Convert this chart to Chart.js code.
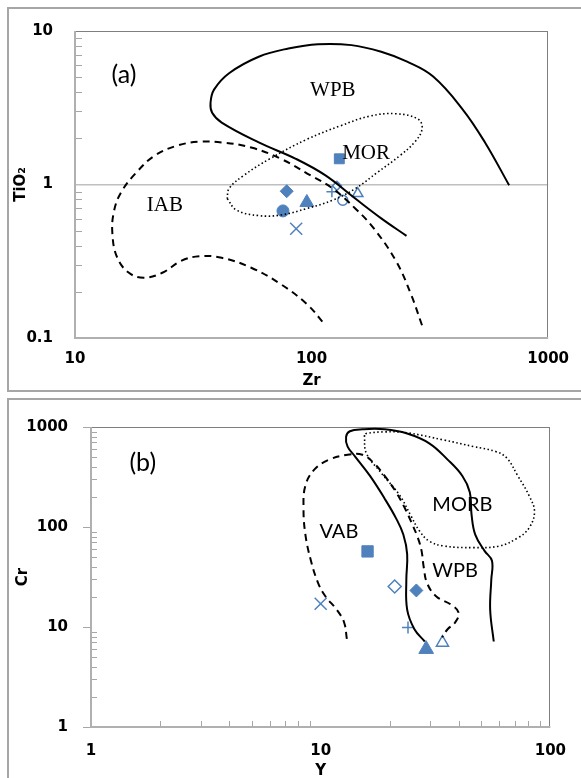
<!DOCTYPE html>
<html><head><meta charset="utf-8">
<script src="https://cdn.jsdelivr.net/npm/chart.js@4/dist/chart.umd.min.js"></script>
<style>
html,body{margin:0;padding:0;background:#fff;width:581px;height:778px;overflow:hidden;position:relative}
canvas{position:absolute;left:0}
#ca{top:0}
#cb{top:395px}
.frame{position:absolute;border:2px solid #a6a6a6;box-sizing:border-box;pointer-events:none}
</style></head><body>
<div class="frame" style="left:7px;top:7px;width:600px;height:385px"></div>
<div class="frame" style="left:7px;top:398px;width:600px;height:420px"></div>
<canvas id="ca" width="581" height="395"></canvas>
<canvas id="cb" width="581" height="390"></canvas>
<script>
// ---------------- DATA : panel (a) TiO2 vs Zr ----------------
const ticksZr = [10, 100, 1000];
const ticksTi = [0.1, 1, 10];
// samples (order: ■ ◆ ● ▲ × + ◇ ○ △)
const sampleZr = [131, 78.5, 75.7, 95.5, 86.1, 121.9, 128, 135.5, 156.7];
const sampleTi = [1.47, 0.904, 0.673, 0.764, 0.515, 0.896, 0.98, 0.79, 0.873];
// WPB field (solid)
const wpbAZr = [252, 197, 153, 114.5, 85.8, 59.8, 41.7, 38.0, 37.4, 38.7, 44.8, 59.8, 79.8, 106.5, 147.5, 197, 253.5, 326.6, 435.7, 541, 684];
const wpbATi = [0.463, 0.602, 0.81, 1.146, 1.47, 1.88, 2.53, 2.93, 3.40, 4.15, 5.31, 6.80, 7.69, 8.20, 8.09, 7.32, 6.31, 5.05, 3.08, 1.88, 0.99];
// MOR field (dotted, closed)
const morZr = [44.0, 48.1, 59.8, 74.2, 95.6, 123, 153, 190, 236, 272, 293, 282.5, 227.5, 176.6, 132.3, 95.6, 66.6, 51.7, 44.8, 44.0];
const morTi = [0.81, 0.682, 0.627, 0.633, 0.698, 0.791, 0.94, 1.20, 1.54, 1.88, 2.29, 2.66, 2.89, 2.79, 2.41, 1.97, 1.47, 1.146, 0.94, 0.81];
// IAB field (dashed)
const iabZr = [293, 263, 227.5, 183, 153, 123, 99.1, 74.2, 55.6, 41.7, 33.5, 27.0, 21.7, 18.2, 15.7, 14.6, 14.4, 15.1, 16.9, 19.5, 23.4, 28.0, 33.5, 41.7, 55.6, 74.2, 95.6, 114.5];
const iabTi = [0.121, 0.193, 0.317, 0.519, 0.698, 0.94, 1.146, 1.47, 1.74, 1.88, 1.90, 1.79, 1.54, 1.20, 0.895, 0.665, 0.47, 0.333, 0.266, 0.247, 0.266, 0.317, 0.341, 0.333, 0.287, 0.224, 0.166, 0.121];

// ---------------- DATA : panel (b) Cr vs Y ----------------
const ticksY = [1, 10, 100];
const ticksCr = [1, 10, 100, 1000];
// samples (order: ■ ◇ ◆ × + ▲ △)
const sampleY = [16.0, 21.0, 26.1, 10.0, 24.0, 28.8, 33.9];
const sampleCr = [57, 25.4, 23.2, 17.1, 9.9, 6.0, 6.97];
// WPB field (solid)
const wpbBY = [28.4, 25.6, 23.8, 23.6, 23.8, 22.9, 21.3, 19.0, 16.4, 14.1, 13.1, 12.9, 13.4, 15.2, 19.0, 23.8, 29.7, 35.7, 41.4, 44.6, 45.4, 47.1, 51.7, 55.7, 55.3, 54.7, 56.7];
const wpbBCr = [7.16, 9.5, 14.9, 29.4, 53.5, 84.0, 122, 192, 324, 509, 637, 798, 907, 949, 949, 861, 687, 472, 324, 223, 132, 84.0, 57.7, 46.0, 29.4, 14.9, 7.16];
// VAB field (dashed)
const vabY = [13.0, 12.65, 11.75, 10.5, 9.77, 9.07, 8.58, 8.42, 8.58, 9.4, 10.9, 13.1, 15.2, 17.0, 19.0, 21.3, 23.3, 25.1, 26.5, 27.5, 28.1, 29.1, 31.9, 37.0, 39.9, 38.5, 35.7, 33.8];
const vabCr = [7.6, 11.1, 14.9, 20.2, 27.2, 46.0, 84.0, 153, 259, 377, 472, 528, 528, 438, 324, 223, 153, 105, 77.9, 57.7, 39.6, 27.2, 20.2, 16.7, 13.9, 11.1, 9.5, 7.9];
// MORB field (dotted, closed)
const morbY = [15.5, 15.8, 18.3, 22.1, 24.6, 27.0, 29.7, 34.4, 46.3, 60.0, 72.2, 80.7, 85.3, 80.7, 72.2, 64.6, 57.8, 46.3, 34.4, 23.8, 19.0, 15.8, 15.5];
const morbCr = [829, 549, 350, 207, 132, 90.5, 72.3, 64.6, 62.2, 64.6, 77.9, 97.6, 142, 207, 324, 490, 569, 637, 741, 874, 894, 861, 829];

// field labels (text, anchor in data units)
const labelTextA = ['(a)', 'WPB', 'MOR', 'IAB'];
const labelXA = [16.1, 123, 170, 24.0];
const labelYA = [5.14, 4.09, 1.60, 0.728];
const labelTextB = ['(b)', 'VAB', 'MORB', 'WPB'];
const labelXB = [1.68, 12.0, 41.4, 38.5];
const labelYB = [438, 90.5, 167, 36.7];

// ---------------- STYLE ----------------
const BLUE = '#4F81BD';
const stylesA = [
  {s:'rect', r:7, fill:true}, {s:'rectRot', r:6.5, fill:true}, {s:'circle', r:6, fill:true},
  {s:'triangle', r:8, fill:true}, {s:'crossRot', r:8.5, fill:false}, {s:'cross', r:5.5, fill:false},
  {s:'rectRot', r:4.5, fill:false}, {s:'circle', r:5, fill:false}, {s:'triangle', r:6, fill:false}
];
const stylesB = [
  {s:'rect', r:8, fill:true}, {s:'rectRot', r:6.5, fill:false}, {s:'rectRot', r:6.5, fill:true},
  {s:'crossRot', r:8.5, fill:false}, {s:'cross', r:6, fill:false},
  {s:'triangle', r:8.5, fill:true}, {s:'triangle', r:7, fill:false}
];
const minor = (decades) => decades.flatMap(d => [2,3,4,5,6,7,8,9].map(k => +(k*d).toPrecision(3)));

function pts(xs, ys) { return xs.map((x, i) => ({x, y: ys[i]})); }
function curve(xs, ys, dash, width) {
  return {data: pts(xs, ys), showLine: true, borderColor: '#000', borderWidth: width || 2,
          borderDash: dash, pointRadius: 0, pointHoverRadius: 0, tension: 0.4, fill: false, borderCapStyle: 'butt'};
}
function markers(xs, ys, styles) {
  return xs.map((x, i) => {
    const st = styles[i];
    return {data: [{x, y: ys[i]}], showLine: false, pointStyle: st.s, pointRadius: st.r,
      pointHoverRadius: st.r, backgroundColor: st.fill ? BLUE : '#fff', borderColor: BLUE,
      borderWidth: st.fill ? 1 : 1.5};
  });
}

const decor = {
  id: 'decor',
  beforeDatasetsDraw(chart, a, o) {
    const {ctx, chartArea: ca, scales: {x, y}} = chart;
    ctx.save();
    ctx.lineWidth = 1;
    ctx.strokeStyle = '#a6a6a6';
    (o.yMinor || []).forEach(v => {
      const py = Math.round(y.getPixelForValue(v)) + 0.5;
      ctx.beginPath(); ctx.moveTo(ca.left, py); ctx.lineTo(ca.left + o.minorLen, py); ctx.stroke();
    });
    (o.xMinor || []).forEach(v => {
      const px = Math.round(x.getPixelForValue(v)) + 0.5;
      ctx.beginPath(); ctx.moveTo(px, ca.bottom); ctx.lineTo(px, ca.bottom - o.minorLen); ctx.stroke();
    });
    (o.yMajorOut || []).forEach(v => {
      const py = Math.round(y.getPixelForValue(v)) + 0.5;
      ctx.beginPath(); ctx.moveTo(ca.left - 8, py); ctx.lineTo(ca.left, py); ctx.stroke();
    });
    ctx.strokeStyle = '#7f7f7f';
    ctx.strokeRect(Math.round(ca.left) + 0.5, Math.round(ca.top) + 0.5, Math.round(ca.width) - 1, Math.round(ca.height) - 1);
    ctx.strokeStyle = '#b0b0b0'; ctx.lineWidth = 2;
    ctx.beginPath(); ctx.moveTo(ca.left, ca.top); ctx.lineTo(ca.left, ca.bottom); ctx.lineTo(ca.right, ca.bottom); ctx.stroke();
    ctx.restore();
  },
  afterDatasetsDraw(chart, a, o) {
    const {ctx, scales: {x, y}} = chart;
    ctx.save();
    ctx.fillStyle = '#000'; ctx.textAlign = 'center'; ctx.textBaseline = 'middle';
    o.texts.forEach((t, i) => {
      ctx.font = o.fonts[i];
      ctx.fillText(t, x.getPixelForValue(o.xs[i]), y.getPixelForValue(o.ys[i]));
    });
    ctx.restore();
  }
};

const tickFont = {family: 'DejaVu Sans', weight: 'bold', size: 15};
function logAxis(min, max, vals, opts) {
  return Object.assign({
    type: 'logarithmic', min, max,
    afterBuildTicks: s => { s.ticks = vals.map(v => ({value: v})); },
    ticks: {font: tickFont, color: '#000', callback: v => String(v), autoSkip: false, maxRotation: 0},
    grid: {drawOnChartArea: false, drawTicks: false},
    border: {display: false}
  }, opts);
}

function makeChart(id, datasets, scales, decorOpts, padding) {
  return new Chart(document.getElementById(id), {
    type: 'scatter',
    data: {datasets},
    options: {
      responsive: false, animation: false, events: [],
      layout: {padding},
      plugins: {legend: {display: false}, tooltip: {enabled: false}, decor: decorOpts},
      scales
    },
    plugins: [decor]
  });
}

// Panel (a)
makeChart('ca', [
  curve(iabZr, iabTi, [7, 5]),
  curve(morZr, morTi, [1.5, 2.5], 1.6),
  curve(wpbAZr, wpbATi, []),
  ...markers(sampleZr, sampleTi, stylesA)
], {
  x: logAxis(10, 1000, ticksZr, {
    position: 'bottom',
    afterFit: s => { s.height = 395 - 338; },
    ticks: {font: tickFont, color: '#000', callback: v => String(v), autoSkip: false, maxRotation: 0, padding: 12},
    title: {display: true, text: 'Zr', font: tickFont, color: '#000', padding: {top: 0, bottom: 5}}
  }),
  y: logAxis(0.1, 10, ticksTi, {
    position: 'left',
    afterFit: s => { s.width = 75; },
    ticks: {font: tickFont, color: '#000', callback: v => String(v), autoSkip: false, padding: 22},
    grid: {drawOnChartArea: true, drawTicks: false, color: c => (c.tick && c.tick.value === 1) ? '#bfbfbf' : 'rgba(0,0,0,0)', lineWidth: 1.5},
    title: {display: true, text: 'TiO₂', font: tickFont, color: '#000', padding: {top: 12, bottom: 0}}
  })
}, {
  yMinor: minor([0.1, 1]), minorLen: 7,
  texts: labelTextA, xs: labelXA, ys: labelYA,
  fonts: ['25px Lato', '21px "Liberation Serif"', '21px "Liberation Serif"', '21px "Liberation Serif"']
}, {top: 27, right: 32, left: 0, bottom: 0});

// Panel (b)
makeChart('cb', [
  curve(vabY, vabCr, [7, 5]),
  curve(morbY, morbCr, [1.5, 2.5], 1.6),
  curve(wpbBY, wpbBCr, []),
  ...markers(sampleY, sampleCr, stylesB)
], {
  x: logAxis(1, 100, ticksY, {
    position: 'bottom',
    afterFit: s => { s.height = 390 - 332; },
    ticks: {font: tickFont, color: '#000', callback: v => String(v), autoSkip: false, maxRotation: 0, padding: 15},
    title: {display: true, text: 'Y', font: tickFont, color: '#000', padding: {top: 0, bottom: 5}}
  }),
  y: logAxis(1, 1000, ticksCr, {
    position: 'left',
    afterFit: s => { s.width = 91; },
    ticks: {font: tickFont, color: '#000', callback: v => String(v), autoSkip: false, padding: 23},
    title: {display: true, text: 'Cr', font: tickFont, color: '#000', padding: {top: 14, bottom: 0}}
  })
}, {
  yMinor: minor([1, 10, 100]), xMinor: minor([1, 10]), yMajorOut: ticksCr, minorLen: 6,
  texts: labelTextB, xs: labelXB, ys: labelYB,
  fonts: ['25px Lato', '20px Lato', '20px Lato', '20px Lato']
}, {top: 25, right: 30, left: 0, bottom: 0});
</script>
</body></html>
